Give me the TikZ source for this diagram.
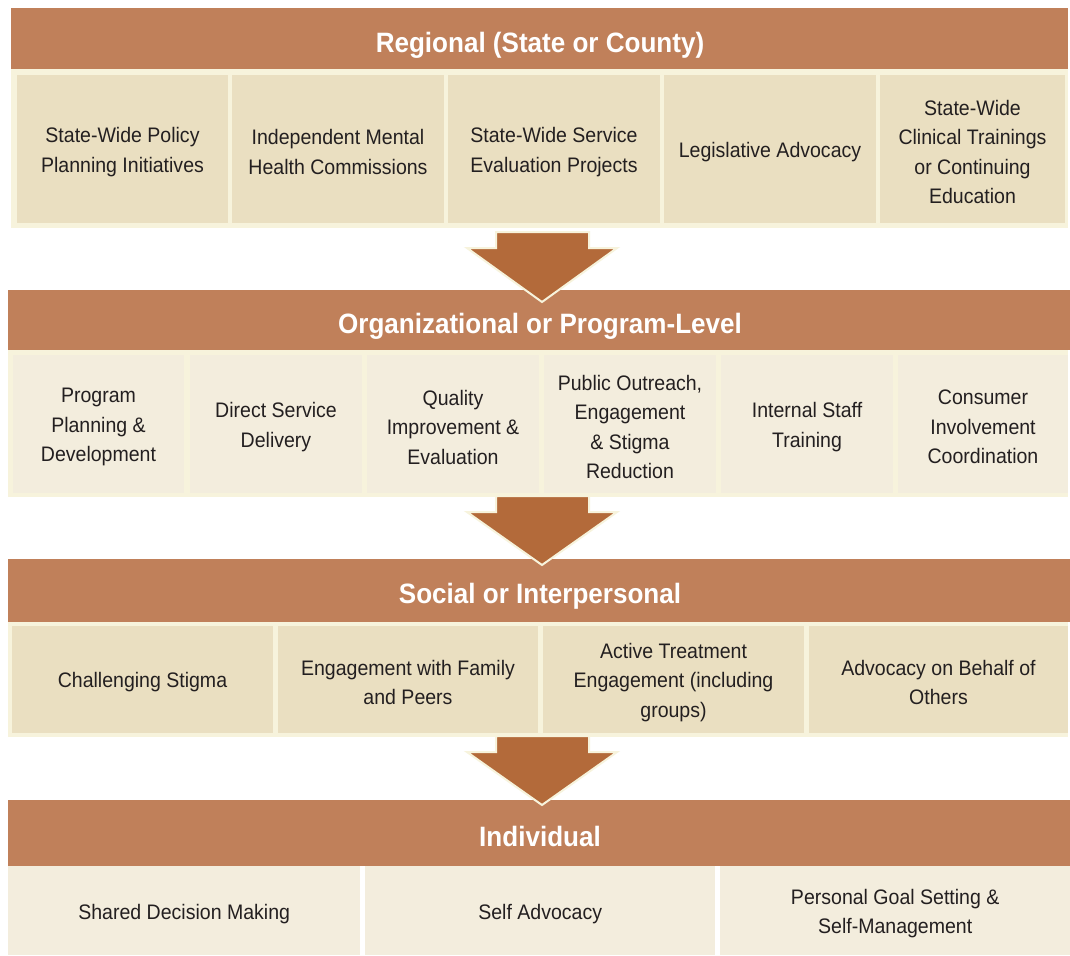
\documentclass[tikz,border=0pt]{standalone}
\usepackage{fontspec}
\setmainfont[FakeStretch=0.93]{Liberation Sans}
\definecolor{hdr}{HTML}{C0805A}
\definecolor{arr}{HTML}{B36A3A}
\definecolor{cream}{HTML}{F7F3DC}
\definecolor{celld}{HTML}{EADFC1}
\definecolor{celll}{HTML}{F3EDDD}
\definecolor{txt}{HTML}{231F20}
\tikzset{
  hdrbox/.style={fill=hdr, draw=none, inner sep=0pt},
  hdrtext/.style={text=white, font=\fontsize{28}{32}\selectfont\bfseries},
  creambox/.style={fill=cream, draw=none, inner sep=0pt},
  celltext/.style={text=txt, align=center, inner sep=0pt, yshift=-3pt,
    font=\fontsize{21}{29.5}\selectfont},
  cellbox/.style={draw=none, inner sep=0pt},
  darkcell/.style={cellbox, fill=celld},
  lightcell/.style={cellbox, fill=celll},
  downarrow/.style={fill=arr, draw=cream, line width=2pt, line join=miter}
}
\begin{document}
\begin{tikzpicture}[x=1pt,y=-1pt]
\useasboundingbox (0,0) rectangle (1070,955);
\fill[white] (0,0) rectangle (1070,955);

% ---------- Band 1 ----------
\node[creambox, minimum width=1057, minimum height=159, anchor=north west] (cr1) at (11,69) {};
\node[hdrbox, minimum width=1057, minimum height=61, anchor=north west] (h1) at (11,8) {};
\node[hdrtext] (h1t) at (540,45) {Regional (State or County)};
\node[darkcell, minimum width=211, minimum height=148, label={[celltext]center:{State-Wide Policy\\Planning Initiatives}}] (a1) at (122.5,149) {};
\node[darkcell, minimum width=212, minimum height=148, label={[celltext]center:{Independent Mental\\Health Commissions}}] (a2) at (338,149) {};
\node[darkcell, minimum width=212, minimum height=148, label={[celltext]center:{State-Wide Service\\Evaluation Projects}}] (a3) at (554,149) {};
\node[darkcell, minimum width=212, minimum height=148, label={[celltext]center:{Legislative Advocacy}}] (a4) at (770,149) {};
\node[darkcell, minimum width=185, minimum height=148, label={[celltext]center:{State-Wide\\Clinical Trainings\\or Continuing\\Education}}] (a5) at (972.5,149) {};

% ---------- Band 2 ----------
\node[creambox, minimum width=1060, minimum height=147, anchor=north west] (cr2) at (8,350) {};
\node[hdrbox, minimum width=1062, minimum height=60, anchor=north west] (h2) at (8,290) {};
\node[hdrtext] (h2t) at (540,326) {Organizational or Program-Level};
\node[lightcell, minimum width=171, minimum height=138, label={[celltext]center:{Program\\Planning \&\\Development}}] (b1) at (98.5,424) {};
\node[lightcell, minimum width=172, minimum height=138, label={[celltext]center:{Direct Service\\Delivery}}] (b2) at (276,424) {};
\node[lightcell, minimum width=172, minimum height=138, label={[celltext]center:{Quality\\Improvement \&\\Evaluation}}] (b3) at (453,424) {};
\node[lightcell, minimum width=172, minimum height=138, label={[celltext]center:{Public Outreach,\\Engagement\\\& Stigma\\Reduction}}] (b4) at (630,424) {};
\node[lightcell, minimum width=172, minimum height=138, label={[celltext]center:{Internal Staff\\Training}}] (b5) at (807,424) {};
\node[lightcell, minimum width=170, minimum height=138, label={[celltext]center:{Consumer\\Involvement\\Coordination}}] (b6) at (983,424) {};

% ---------- Band 3 ----------
\node[creambox, minimum width=1060, minimum height=115, anchor=north west] (cr3) at (8,622) {};
\node[hdrbox, minimum width=1062, minimum height=63, anchor=north west] (h3) at (8,559) {};
\node[hdrtext] (h3t) at (540,596) {Social or Interpersonal};
\node[darkcell, minimum width=261, minimum height=107, label={[celltext]center:{Challenging Stigma}}] (c1) at (142.5,679.5) {};
\node[darkcell, minimum width=260, minimum height=107, label={[celltext]center:{Engagement with Family\\and Peers}}] (c2) at (408,679.5) {};
\node[darkcell, minimum width=261, minimum height=107, label={[celltext]center:{Active Treatment\\Engagement (including\\groups)}}] (c3) at (673.5,679.5) {};
\node[darkcell, minimum width=259, minimum height=107, label={[celltext]center:{Advocacy on Behalf of\\Others}}] (c4) at (938.5,679.5) {};

% ---------- Band 4 ----------
\node[hdrbox, minimum width=1062, minimum height=66, anchor=north west] (h4) at (8,800) {};
\node[hdrtext] (h4t) at (540,836) {Individual};
\node[lightcell, minimum width=352, minimum height=89, anchor=north west, label={[celltext]center:{Shared Decision Making}}] (d1) at (8,866) {};
\node[lightcell, minimum width=350, minimum height=89, anchor=north west, label={[celltext]center:{Self Advocacy}}] (d2) at (365,866) {};
\node[lightcell, minimum width=350, minimum height=89, anchor=north west, label={[celltext]center:{Personal Goal Setting \&\\Self-Management}}] (d3) at (720,866) {};

% ---------- Arrows ----------
\draw[downarrow] (496,232) -- (589,232) -- (589,248) -- (617,248) -- (542,302) -- (467,248) -- (496,248) -- cycle;
\draw[downarrow] (496,496) -- (589,496) -- (589,512) -- (617,512) -- (542,565) -- (467,512) -- (496,512) -- cycle;
\draw[downarrow] (496,736) -- (589,736) -- (589,752) -- (617,752) -- (542,805) -- (467,752) -- (496,752) -- cycle;
\end{tikzpicture}
\end{document}
